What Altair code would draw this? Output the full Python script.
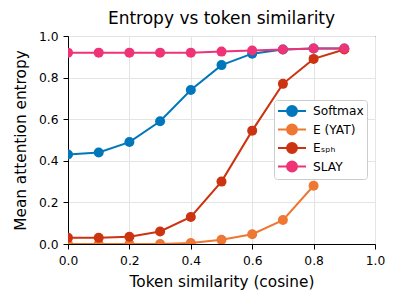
import altair as alt
import pandas as pd

x_vals = [0.0, 0.1, 0.2, 0.3, 0.4, 0.5, 0.6, 0.7, 0.8, 0.9]
softmax = [0.43, 0.44, 0.49, 0.59, 0.74, 0.86, 0.915, 0.935, 0.94, 0.94]
yat_x = [0.0, 0.1, 0.2, 0.3, 0.4, 0.5, 0.6, 0.7, 0.8]
yat = [0.0, 0.0, 0.0, 0.0, 0.005, 0.02, 0.047, 0.115, 0.28]
esph = [0.03, 0.03, 0.035, 0.06, 0.13, 0.30, 0.545, 0.77, 0.89, 0.935]
slay = [0.92, 0.92, 0.92, 0.92, 0.92, 0.925, 0.93, 0.935, 0.94, 0.94]

series_names = ["Softmax", "E (YAT)", "E\u209b\u209a\u2095", "SLAY"]
series_colors = ["#0077BB", "#EE7733", "#CC3311", "#EE3377"]

rows = []
for xv, v in zip(x_vals, softmax):
    rows.append({"x": xv, "y": v, "s": series_names[0]})
for xv, v in zip(yat_x, yat):
    rows.append({"x": xv, "y": v, "s": series_names[1]})
for xv, v in zip(x_vals, esph):
    rows.append({"x": xv, "y": v, "s": series_names[2]})
for xv, v in zip(x_vals, slay):
    rows.append({"x": xv, "y": v, "s": series_names[3]})
df = pd.DataFrame(rows)

font = "DejaVu Sans"
sym = "M -2 0 L 2 0 M 0.71 0 A 0.71 0.71 0 1 1 -0.71 0 A 0.71 0.71 0 1 1 0.71 0 Z"

color = alt.Color(
    "s:N",
    scale=alt.Scale(domain=series_names, range=series_colors),
    sort=series_names,
    legend=alt.Legend(
        title=None,
        orient="none",
        legendX=206,
        legendY=64,
        symbolType=sym,
        symbolSize=196,
        symbolStrokeWidth=2,
        symbolOpacity=1,
        symbolOffset=7,
        labelFont=font,
        labelFontSize=12.2,
        labelFontWeight="normal",
        labelColor="black",
        rowPadding=0.5,
        padding=3,
        strokeColor="#cccccc",
        fillColor="white",
        cornerRadius=3,
        labelOffset=13,
    ),
)

xenc = alt.X(
    "x:Q",
    scale=alt.Scale(domain=[0, 1], nice=False, zero=False),
    axis=alt.Axis(values=[0, 0.2, 0.4, 0.6, 0.8, 1.0], format=".1f",
                  title="Token similarity (cosine)", labelFlush=False),
)
yenc = alt.Y(
    "y:Q",
    scale=alt.Scale(domain=[0, 1], nice=False),
    axis=alt.Axis(values=[0, 0.2, 0.4, 0.6, 0.8, 1.0], format=".1f",
                  title="Mean attention entropy", labelFlush=False),
)

base = alt.Chart(df)
lines = base.mark_line(strokeWidth=2, clip=True).encode(x=xenc, y=yenc, color=color)
points = base.mark_circle(size=100, opacity=1, clip=True).encode(x=xenc, y=yenc, color=color)

chart = (
    alt.layer(lines, points)
    .properties(
        width=307,
        height=208,
        title=alt.TitleParams("Entropy vs token similarity", font=font, fontSize=17,
                              fontWeight="normal", color="black", offset=2),
        autosize=alt.AutoSizeParams(type="none"),
        padding={"left": 60, "top": 28, "right": 16, "bottom": 53},
    )
    .configure_view(stroke="black", strokeWidth=1)
    .configure_axis(
        labelFont=font,
        labelFontSize=12.3,
        labelColor="black",
        titleFont=font,
        titleFontSize=15.3,
        titleFontWeight="normal",
        titleColor="black",
        domainColor="black",
        tickColor="black",
        tickSize=5,
        labelPadding=5,
        gridColor="#e4e4e4",
        gridWidth=1,
    )
    .configure_axisX(titlePadding=8)
    .configure_axisY(titlePadding=10)
)

chart.save("out.html", embed_options={"renderer": "svg", "actions": False})
